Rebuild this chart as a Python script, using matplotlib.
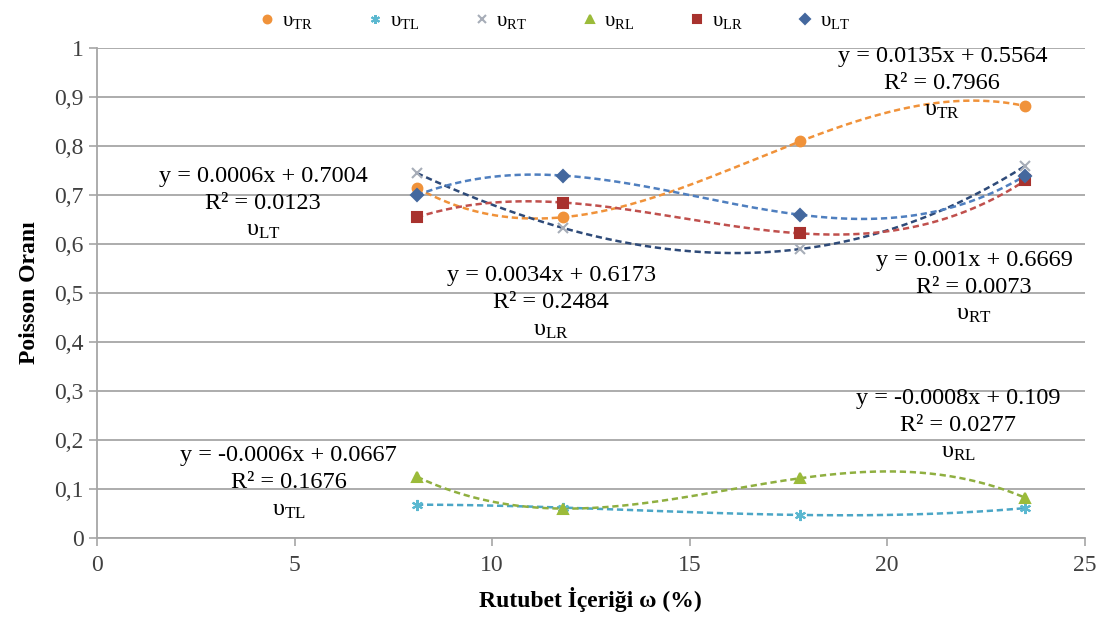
import numpy as np
import matplotlib
matplotlib.use('Agg')
import matplotlib.pyplot as plt
from matplotlib.ticker import FuncFormatter

# fonts (Times-like)
plt.rcParams['font.family'] = 'Liberation Serif'
plt.rcParams['mathtext.fontset'] = 'custom'
plt.rcParams['mathtext.rm'] = 'Liberation Serif'
plt.rcParams['mathtext.it'] = 'Liberation Serif:italic'

# data
moisture = [8.1, 11.8, 17.8, 23.5]          # Rutubet icerigi w (%)
nu_TR = [0.715, 0.655, 0.810, 0.882]
nu_TL = [0.068, 0.062, 0.047, 0.061]
nu_RT = [0.745, 0.633, 0.590, 0.760]
nu_RL = [0.125, 0.060, 0.122, 0.082]
nu_LR = [0.655, 0.685, 0.622, 0.730]
nu_LT = [0.700, 0.740, 0.660, 0.740]

keys      = ['TR', 'TL', 'RT', 'RL', 'LR', 'LT']
values    = [nu_TR, nu_TL, nu_RT, nu_RL, nu_LR, nu_LT]
equations = ['y = 0.0135x + 0.5564', 'y = -0.0006x + 0.0667', 'y = 0.001x + 0.6669',
             'y = -0.0008x + 0.109', 'y = 0.0034x + 0.6173', 'y = 0.0006x + 0.7004']
r_squared = ['0.7966', '0.1676', '0.0073', '0.0277', '0.2484', '0.0123']

# styles
marker_colors = ['#F0923A', '#5BB8D0', '#A7ADB8', '#9BBB3A', '#A8322E', '#44689E']
line_colors   = ['#F0923A', '#4BA6C6', '#2E4A78', '#8FAF40', '#C0504D', '#4F7FBF']
markers       = ['o', (6, 2, 0), 'x', '^', 's', 'D']
msizes        = [7, 8, 7, 7, 7, 6]
# label block positions (centre of the R2 line), data coords
label_pos = [(21.4, 0.928), (4.85, 0.112), (22.2, 0.512),
             (21.8, 0.230), (11.5, 0.480), (4.2, 0.683)]

fig = plt.figure(figsize=(11.09, 6.27), dpi=100)
ax = fig.add_axes([0.0875, 0.142, 0.978 - 0.0875, 0.923 - 0.142])

# dashed trend curves (cubic through the four points) and markers
for i, k in enumerate(keys):
    coef = np.polyfit(moisture, values[i], 3)
    xs = np.linspace(moisture[0], moisture[-1], 200)
    ax.plot(xs, np.polyval(coef, xs), color=line_colors[i], lw=1.8,
            ls=(0, (2.5, 1.5)), zorder=3)
    ax.plot(moisture, values[i], ls='none', marker=markers[i], ms=msizes[i],
            color=marker_colors[i], mec=marker_colors[i], mew=1.5, zorder=4,
            label=r'$\mathrm{υ}_{\mathrm{' + k + '}}$')
    x0, y0 = label_pos[i]
    txt = equations[i] + '\nR² = ' + r_squared[i] + '\n' + r'$\mathrm{υ}_{\mathrm{' + k + '}}$'
    ax.text(x0, y0, txt, ha='center', va='center', multialignment='center',
            fontsize=17.5, linespacing=1.38, zorder=5)

# axes
ax.set_xlim(0, 25)
ax.set_ylim(0, 1)
ax.set_xticks(np.arange(0, 26, 5))
ax.set_yticks(np.arange(0, 1.01, 0.1))
ax.yaxis.set_major_formatter(FuncFormatter(lambda v, p: ('%g' % round(v, 1)).replace('.', ',')))
ax.grid(axis='y', color='#A6A6A6', lw=1.3)
ax.set_axisbelow(True)
for s in ['top', 'right']:
    ax.spines[s].set_visible(False)
for s in ['left', 'bottom']:
    ax.spines[s].set_color('#A6A6A6')
    ax.spines[s].set_linewidth(1.3)
ax.tick_params(axis='both', colors='#A6A6A6', labelcolor='#404040', labelsize=17,
               length=6, width=1.2)
ax.tick_params(axis='x', pad=6)

ax.set_xlabel('Rutubet İçeriği ω (%)', fontsize=17, fontweight='bold', labelpad=8)
ax.set_ylabel('Poisson Oranı', fontsize=17, fontweight='bold', labelpad=10)

fig.legend(loc='upper center', bbox_to_anchor=(0.50, 1.012), ncol=6, frameon=False,
           fontsize=15, handlelength=0.8, handletextpad=0.3, columnspacing=2.6,
           markerscale=0.8)

fig.savefig('out.png', dpi=100)
